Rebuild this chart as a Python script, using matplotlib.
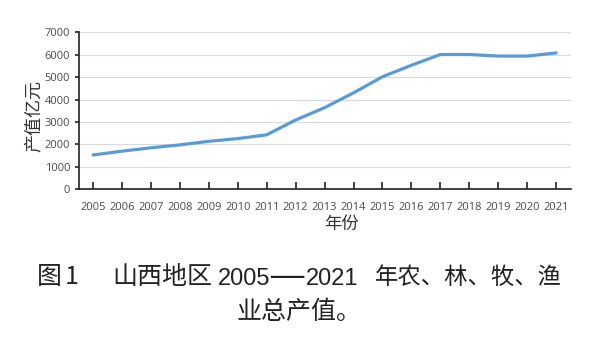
import matplotlib
matplotlib.use("Agg")
import matplotlib.pyplot as plt
from matplotlib.ticker import MultipleLocator

plt.rcParams['font.family'] = ['Noto Sans CJK SC', 'DejaVu Sans']

# data (亿元)
years = list(range(2005, 2022))
output_value = [1530, 1700, 1850, 1980, 2140, 2260, 2430, 3090, 3640, 4300,
                5020, 5530, 6010, 6010, 5940, 5940, 6080]

W, H = 600, 339
fig = plt.figure(figsize=(W / 100, H / 100), dpi=100)
ax = fig.add_axes([0.131, 0.4416, 0.82, 0.4631])

ax.plot(years, output_value, color='#5b9bd5', lw=2.3, solid_capstyle='round')

ax.set_xlim(2004.5, 2021.5)
ax.set_ylim(0, 7000)
ax.yaxis.set_major_locator(MultipleLocator(1000))
ax.set_xticks(years)
ax.grid(axis='y', color='#d9d9d9', lw=0.8)
ax.set_axisbelow(True)

for s in ['top', 'right']:
    ax.spines[s].set_visible(False)
for s in ['left', 'bottom']:
    ax.spines[s].set_color('#222222')
    ax.spines[s].set_linewidth(1.2)

ax.tick_params(axis='x', direction='in', length=5, width=1.2, color='#222222',
               labelsize=8, labelcolor='#4a4a4a', pad=9)
ax.tick_params(axis='y', direction='out', length=3, width=1.2, color='#222222',
               labelsize=8, labelcolor='#4a4a4a', pad=3)
for lab in ax.get_xticklabels() + ax.get_yticklabels():
    lab.set_family(['Open Sans', 'DejaVu Sans'])

# axis titles
fig.text(0.056, 0.658, '产值亿元', rotation=90, ha='center', va='center',
         fontsize=13, color='#333333')
fig.text(342 / W, 0.339, '年份', ha='center', va='center', fontsize=12.5,
         color='#333333')

# caption (two lines), pieces placed by pixel like the typeset original
y1 = 1 - 277 / H
y2 = 1 - 312 / H
cap = dict(va='center', color='#222222')
fig.text(37 / W, y1, '图', ha='left', fontsize=18, **cap)
fig.text(65 / W, y1, '1', ha='left', fontsize=18, **cap)
fig.text(112 / W, y1, '山西地区', ha='left', fontsize=18, **cap)
fig.text(375 / W, y1, '年农、林、牧、渔', ha='left', fontsize=16.8, **cap)
fig.text(237 / W, y2, '业总产值。', ha='left', fontsize=18, **cap)

base = 1 - 285 / H
digits = dict(va='baseline', color='#222222',
              family=['Liberation Sans', 'DejaVu Sans'])
fig.text(218 / W, base, '2005', ha='left', fontsize=17, **digits)
fig.text(271 / W, base, '—', ha='left', fontsize=24, **digits)
fig.text(306 / W, base, '2021', ha='left', fontsize=17, **digits)

fig.savefig('out.png', dpi=100)
